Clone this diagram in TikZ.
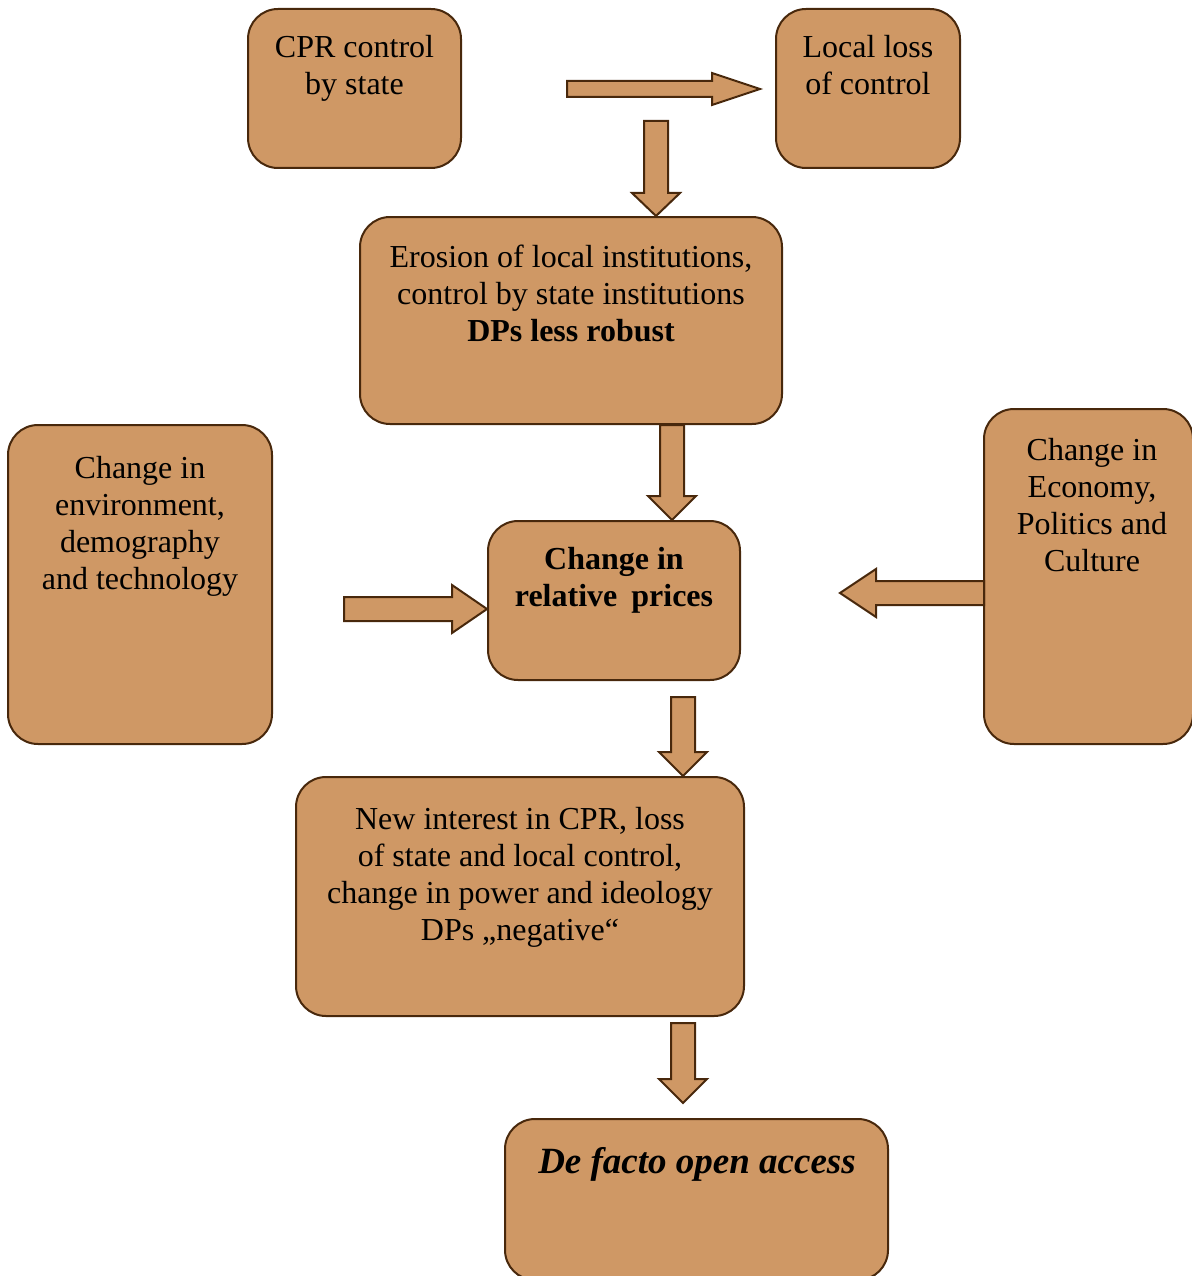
\documentclass[tikz,border=0pt]{standalone}
\usepackage{fontspec}
\setmainfont{Liberation Serif}
\usetikzlibrary{calc}
\definecolor{boxfill}{RGB}{207,152,101}
\definecolor{boxline}{RGB}{72,40,12}
\tikzset{
  box/.style={draw=boxline, fill=boxfill, line width=2pt, rounded corners=30pt, inner sep=0pt},
  boxtext/.style={anchor=north, align=center, inner sep=0pt, font=\fontsize{32}{37}\selectfont},
  fatarrow/.style={draw=boxline, fill=boxfill, line width=2pt, line join=miter},
}
% block arrow: tail, tip, half shaft, half head, head length
\newcommand{\fatarrowdraw}[5]{%
  \coordinate (hb) at ($(#2)!#5!(#1)$);
  \draw[fatarrow] ($(#1)!#3!90:(#2)$) -- ($(hb)!#3!90:(#2)$) -- ($(hb)!#4!90:(#2)$)
    -- (#2) -- ($(hb)!#4!-90:(#2)$) -- ($(hb)!#3!-90:(#2)$) -- ($(#1)!#3!-90:(#2)$) -- cycle;
}

\begin{document}
\begin{tikzpicture}[x=1pt, y=-1pt]
\useasboundingbox (0,0) rectangle (1191,1276);

% boxes
\node[box, minimum width=213pt, minimum height=159pt] (cpr) at (354.5,88.5) {};
\node[boxtext] (cprtext) at (354.5,35) {CPR control\\by state};

\node[box, minimum width=184pt, minimum height=159pt] (loss) at (868,88.5) {};
\node[boxtext] (losstext) at (868,35) {Local loss\\of control};

\node[box, minimum width=422pt, minimum height=207pt] (erosion) at (571,320.5) {};
\node[boxtext] (erosiontext) at (571,245) {Erosion of local institutions,\\control by state institutions\\\textbf{DPs less robust}};

\node[box, minimum width=264pt, minimum height=319pt] (env) at (140,584.5) {};
\node[boxtext] (envtext) at (140,456) {Change in\\environment,\\demography\\and technology};

\node[box, minimum width=252pt, minimum height=159pt] (prices) at (614,600.5) {};
\node[boxtext] (pricestext) at (614,547) {\textbf{Change in}\\\textbf{relative\hspace{14pt}prices}};

\node[box, minimum width=209pt, minimum height=335pt] (econ) at (1088.5,576.5) {};
\node[boxtext] (econtext) at (1092,438) {Change in\\Economy,\\Politics and\\Culture};

\node[box, minimum width=448pt, minimum height=239pt] (newint) at (520,896.5) {};
\node[boxtext] (newinttext) at (520,807) {New interest in CPR, loss\\of state and local control,\\change in power and ideology\\DPs „negative“};

\node[box, minimum width=383pt, minimum height=161pt] (open) at (696.5,1199.5) {};
\node[boxtext, font=\fontsize{37}{42}\selectfont] (opentext) at (697,1147) {\textbf{\textit{De facto open access}}};

% arrows
\coordinate (a1s) at (567,89);   \coordinate (a1e) at (760,89);
\coordinate (a2s) at (656,121);  \coordinate (a2e) at (656,216);
\coordinate (a3s) at (672,425);  \coordinate (a3e) at (672,520);
\coordinate (a4s) at (344,609);  \coordinate (a4e) at (487,609);
\coordinate (a5s) at (984,593);  \coordinate (a5e) at (840,593);
\coordinate (a6s) at (683,697);  \coordinate (a6e) at (683,776);
\coordinate (a7s) at (683,1023); \coordinate (a7e) at (683,1103);

\fatarrowdraw{a1s}{a1e}{8pt}{16pt}{48pt}
\fatarrowdraw{a2s}{a2e}{12pt}{24pt}{23pt}
\fatarrowdraw{a3s}{a3e}{12pt}{24pt}{24pt}
\fatarrowdraw{a4s}{a4e}{12pt}{24pt}{35pt}
\fatarrowdraw{a5s}{a5e}{12pt}{24pt}{36pt}
\fatarrowdraw{a6s}{a6e}{12pt}{24pt}{24pt}
\fatarrowdraw{a7s}{a7e}{12pt}{24pt}{24pt}
\end{tikzpicture}
\end{document}
